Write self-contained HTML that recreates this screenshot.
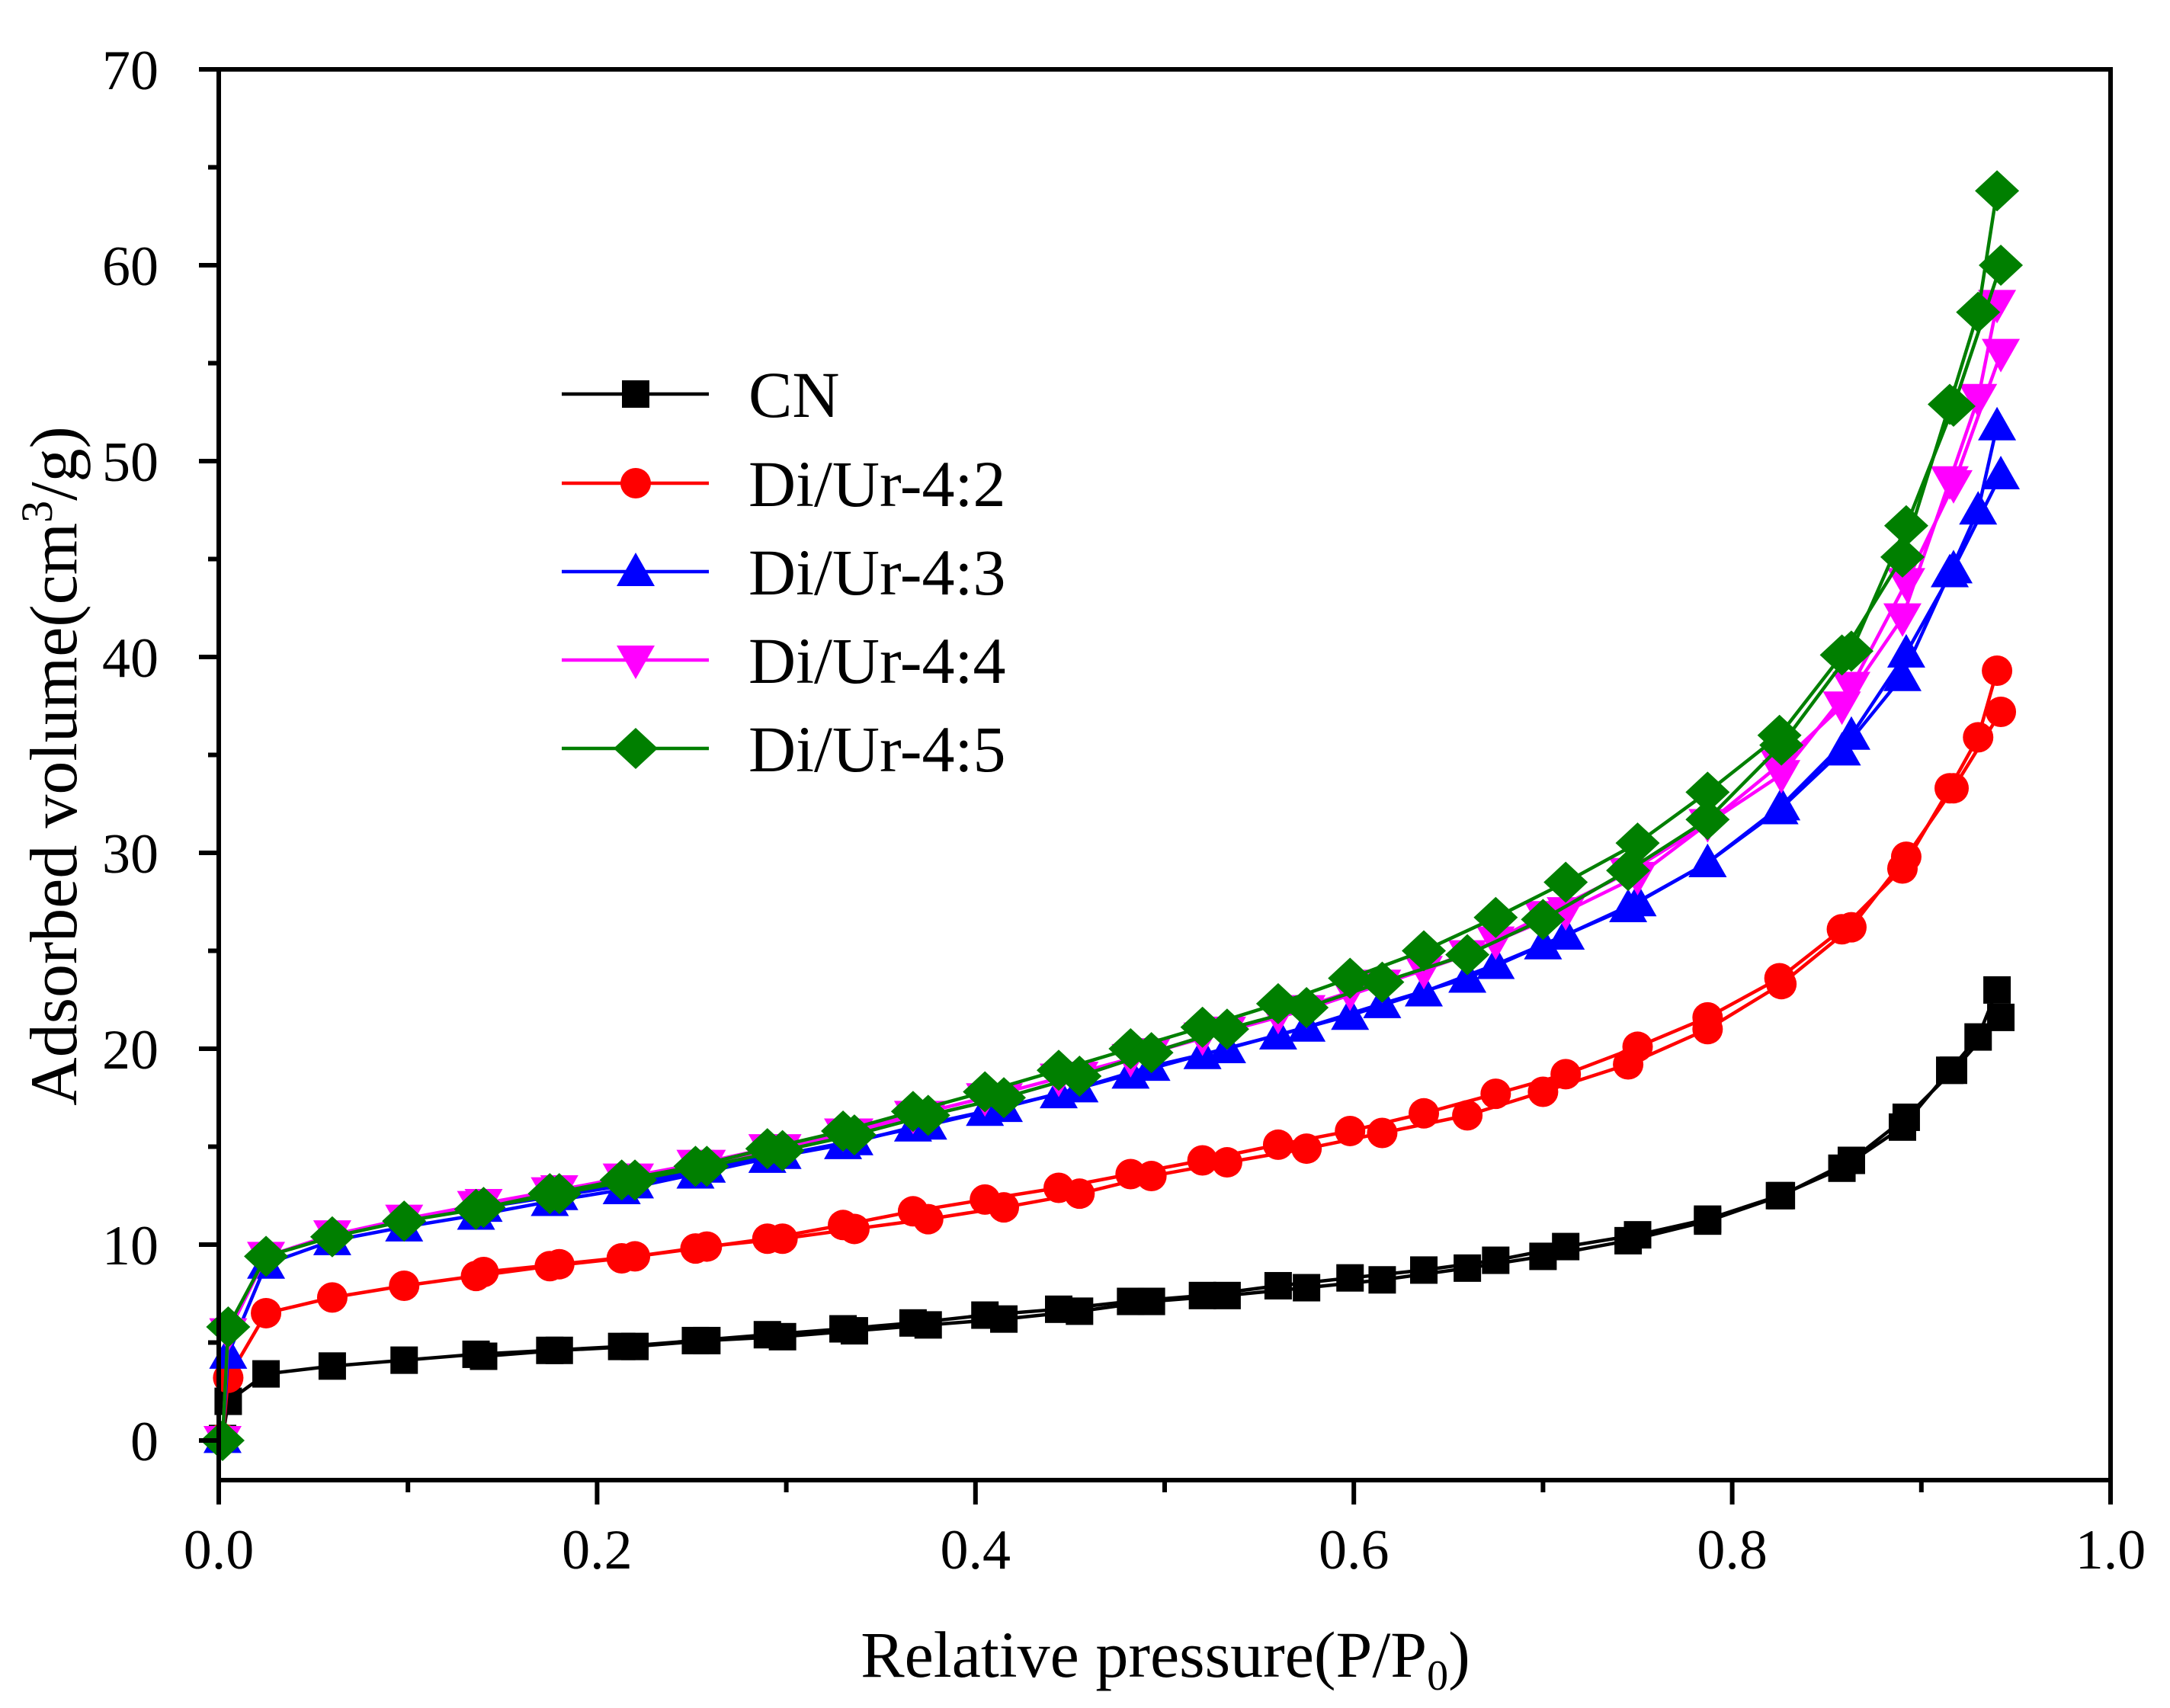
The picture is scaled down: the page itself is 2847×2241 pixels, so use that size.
<!DOCTYPE html>
<html><head><meta charset="utf-8"><style>
html,body{margin:0;padding:0;background:#fff;}
svg{display:block;font-family:"Liberation Serif",serif;}
</style></head><body>
<svg id="chart" width="2847" height="2241" viewBox="0 0 2847 2241" xmlns="http://www.w3.org/2000/svg">
<rect x="0" y="0" width="2847" height="2241" fill="#fff"/>
<g id="series"></g>
<g id="axes"></g>
<g id="legend"></g>
<text x="1529" y="2200" font-size="86" text-anchor="middle">Relative pressure(P/P<tspan font-size="56" dy="17">0</tspan><tspan dy="-17">)</tspan></text>
<text transform="translate(100,1005) rotate(-90)" font-size="88" text-anchor="middle">Adsorbed volume(cm<tspan font-size="58" dy="-32">3</tspan><tspan dy="32">/g)</tspan></text>
</svg>
<script>
const adsX=[0.002,0.005,0.025,0.06,0.098,0.136,0.175,0.213,0.252,0.29,0.33,0.367,0.405,0.444,0.482,0.52,0.56,0.598,0.637,0.675,0.712,0.75,0.787,0.825,0.858,0.89,0.915,0.93,0.94];
const desX=[0.942,0.917,0.892,0.863,0.826,0.787,0.745,0.7,0.66,0.615,0.575,0.533,0.493,0.455,0.415,0.375,0.336,0.298,0.258,0.22,0.18,0.14];
const seriesNames=["CN","Di/Ur-4:2","Di/Ur-4:3","Di/Ur-4:4","Di/Ur-4:5"];
const cnAds=[0.1,2.0,3.4,3.8,4.1,4.4,4.6,4.8,5.1,5.4,5.7,6.0,6.4,6.7,7.1,7.4,7.9,8.3,8.7,9.2,9.9,10.5,11.3,12.5,13.9,16.0,18.9,20.6,23.0];
const cnDes=[21.6,18.9,16.5,14.3,12.5,11.2,10.2,9.4,8.8,8.2,7.8,7.4,7.1,6.6,6.2,5.9,5.6,5.3,5.1,4.8,4.6,4.3];
const r42Ads=[0.1,3.2,6.5,7.3,7.9,8.4,8.9,9.3,9.8,10.3,11.0,11.7,12.3,12.9,13.6,14.3,15.1,15.8,16.7,17.7,18.7,20.1,21.6,23.6,26.1,29.2,33.3,35.9,39.3];
const r42Des=[37.2,33.3,29.8,26.2,23.3,21.0,19.2,17.8,16.6,15.7,14.9,14.2,13.5,12.6,11.9,11.3,10.8,10.3,9.9,9.4,9.0,8.6];
const r43Ads=[0.1,4.4,9.0,10.2,10.9,11.5,12.2,12.8,13.6,14.4,15.1,16.0,16.8,17.7,18.7,19.7,20.7,21.7,22.9,24.3,25.8,27.5,29.5,32.2,35.2,39.0,44.3,47.5,51.8];
const r43Des=[49.3,44.5,40.2,36.0,32.4,29.5,27.2,25.3,23.6,22.3,21.1,20.0,19.1,18.0,17.0,16.1,15.3,14.6,13.9,13.1,12.5,11.9];
const r44Ads=[0.0,5.5,9.4,10.5,11.3,12.0,12.7,13.4,14.1,14.9,15.7,16.6,17.5,18.5,19.5,20.6,21.7,22.9,24.0,25.5,27.0,28.8,31.5,34.5,37.5,42.0,49.0,53.2,58.0];
const r44Des=[55.5,48.8,43.8,38.5,34.0,31.5,29.0,26.8,24.8,23.3,22.0,20.9,19.8,18.6,17.5,16.6,15.7,14.9,14.1,13.4,12.8,12.1];
const r45Ads=[0.0,5.8,9.4,10.4,11.2,11.8,12.6,13.3,14.0,14.9,15.8,16.8,17.8,18.9,20.0,21.1,22.3,23.6,25.0,26.7,28.5,30.5,33.1,36.0,40.1,45.1,52.9,57.6,63.8];
const r45Des=[60.0,52.8,46.7,40.3,35.5,31.7,29.1,26.6,24.8,23.4,22.1,21.0,19.8,18.6,17.5,16.6,15.6,14.8,14.0,13.3,12.6,11.9];
const xTicks=[0,0.2,0.4,0.6,0.8,1.0];
const xTickLabels=["0.0","0.2","0.4","0.6","0.8","1.0"];
const yTicks=[0,10,20,30,40,50,60,70];
const yTickLabels=["0","10","20","30","40","50","60","70"];

const NS="http://www.w3.org/2000/svg";
const L=287,R=2769,T=91,B=1942;
const X=v=>L+(R-L)*v;
const Y=v=>1890-v*(1890-T)/70;
function mk(tag,attrs,parent){const e=document.createElementNS(NS,tag);for(const k in attrs)e.setAttribute(k,attrs[k]);parent.appendChild(e);return e;}
const colors=["#000000","#ff0000","#0000ff","#ff00ff","#007f00"];
const shapes=["square","circle","up","down","diamond"];
const data=[[cnAds,cnDes],[r42Ads,r42Des],[r43Ads,r43Des],[r44Ads,r44Des],[r45Ads,r45Des]];
function marker(shape,cx,cy,c,parent){
  let e;
  if(shape==="square")e=mk("rect",{x:cx-18,y:cy-18,width:36,height:36,fill:c},parent);
  else if(shape==="circle")e=mk("circle",{cx:cx,cy:cy,r:20,fill:c},parent);
  else if(shape==="up")e=mk("polygon",{points:`${cx},${cy-25} ${cx+25},${cy+19} ${cx-25},${cy+19}`,fill:c},parent);
  else if(shape==="down")e=mk("polygon",{points:`${cx},${cy+25} ${cx+25},${cy-19} ${cx-25},${cy-19}`,fill:c},parent);
  else e=mk("polygon",{points:`${cx},${cy-27} ${cx+29},${cy} ${cx},${cy+27} ${cx-29},${cy}`,fill:c},parent);
  return e;
}
const sg=document.getElementById("series");
data.forEach((d,i)=>{
  const g=mk("g",{},sg);
  
  
  const branches=[[adsX,d[0]],[desX,d[1]]];
  branches.forEach(([xs,ys],bi)=>{
    const pts=xs.map((x,j)=>X(x)+","+Y(ys[j])).join(" ");
    const pl=mk("polyline",{points:pts,fill:"none",stroke:colors[i],"stroke-width":4.5},g);
    
    
  });
  branches.forEach(([xs,ys])=>{
    xs.forEach((x,j)=>{
      const m=marker(shapes[i],X(x),Y(ys[j]),colors[i],g);
      
      
    });
  });
});
const ag=document.getElementById("axes");
const box=mk("rect",{x:L,y:T,width:R-L,height:B-T,fill:"none",stroke:"#000","stroke-width":6},ag);


for(let k=0;k<=10;k++){
  const v=k/10,major=k%2===0;
  const t=mk("line",{x1:X(v),x2:X(v),y1:B,y2:B+(major?32:16),stroke:"#000","stroke-width":6},ag);
  
  
}
xTicks.forEach((v,i)=>{
  const t=mk("text",{x:X(v),y:2058,"font-size":74,"text-anchor":"middle"},ag);
  t.textContent=xTickLabels[i];
  
  
});
for(let v=0;v<=70;v+=5){
  const major=v%10===0;
  const t=mk("line",{x1:L,x2:L-(major?26:14),y1:Y(v),y2:Y(v),stroke:"#000","stroke-width":6},ag);
  
  
}
yTicks.forEach((v,i)=>{
  const t=mk("text",{x:208,y:Y(v)+26,"font-size":74,"text-anchor":"end"},ag);
  t.textContent=yTickLabels[i];
  
  
});
const lg=document.getElementById("legend");
const rows=[517,634,750,866,982];
seriesNames.forEach((n,i)=>{
  const g=mk("g",{},lg);
  
  
  mk("line",{x1:737,x2:930,y1:rows[i],y2:rows[i],stroke:colors[i],"stroke-width":4.5},g);
  marker(shapes[i],834,rows[i],colors[i],g);
  const t=mk("text",{x:982,y:rows[i]+30,"font-size":86},g);
  t.textContent=n;
});
</script>
</body></html>
